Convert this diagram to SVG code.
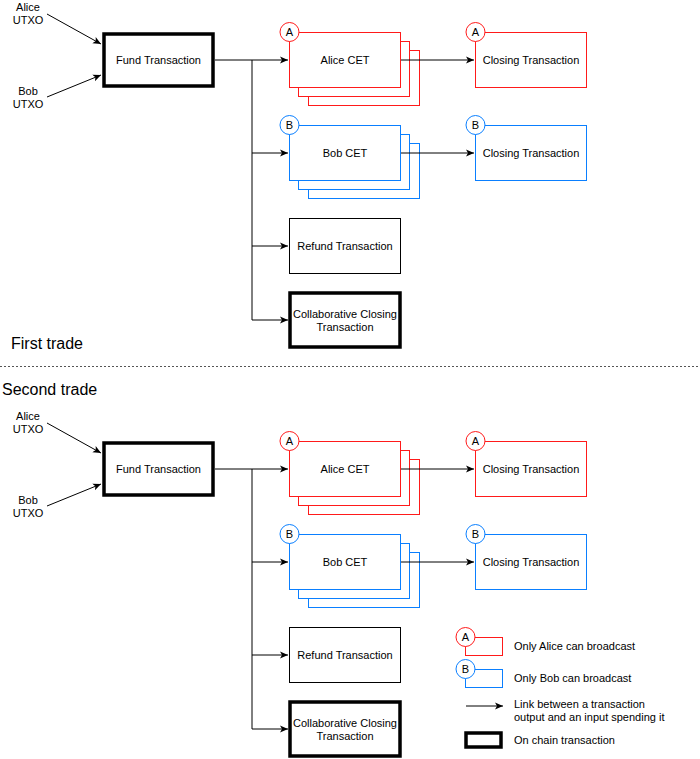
<svg xmlns="http://www.w3.org/2000/svg" width="700" height="759" viewBox="0 0 700 759">
<style>
text{font-family:"Liberation Sans",Arial,sans-serif;font-size:11px;fill:#000;text-anchor:middle;dominant-baseline:central}
.title{font-size:16px;text-anchor:start}
.leg{text-anchor:start}
.box{fill:#fff;stroke:#000;stroke-width:1}
.thick{fill:#fff;stroke:#000;stroke-width:3.5}
.red{fill:#fff;stroke:#FF1A1A;stroke-width:1}
.blue{fill:#fff;stroke:#0A7FFF;stroke-width:1}
.conn path{fill:none;stroke:#000;stroke-width:1;marker-end:url(#arr)}
.plain{fill:none;stroke:#000;stroke-width:1}
</style>
<defs>
<marker id="arr" markerUnits="userSpaceOnUse" markerWidth="9" markerHeight="8" refX="8" refY="4" orient="auto">
<path d="M0,0.5 L8,4 L0,7.5 L2,4 z" fill="#000"/>
</marker>
<g id="trade">
<g id="alice-utxo"><text x="28" y="7">Alice</text><text x="28" y="20">UTXO</text></g>
<g id="bob-utxo"><text x="28" y="91">Bob</text><text x="28" y="104">UTXO</text></g>
<g id="fund"><rect class="thick" x="104" y="34" width="109" height="52"/><text x="158.5" y="60">Fund Transaction</text></g>
<g id="alice-cet">
<rect class="red" x="308.5" y="50.5" width="111" height="55"/>
<rect class="red" x="298.5" y="41.5" width="111" height="55"/>
<rect class="red" x="289.5" y="32.5" width="111" height="55"/>
<circle class="red" cx="289.5" cy="32" r="9.5"/><text x="289.5" y="32">A</text>
<text x="345" y="60">Alice CET</text>
</g>
<g id="alice-closing">
<rect class="red" x="475.5" y="32.5" width="111" height="55"/>
<circle class="red" cx="475.5" cy="32" r="9.5"/><text x="475.5" y="32">A</text>
<text x="531" y="60">Closing Transaction</text>
</g>
<g id="bob-cet">
<rect class="blue" x="308.5" y="143.5" width="111" height="55"/>
<rect class="blue" x="298.5" y="134.5" width="111" height="55"/>
<rect class="blue" x="289.5" y="125.5" width="111" height="55"/>
<circle class="blue" cx="289.5" cy="125" r="9.5"/><text x="289.5" y="125">B</text>
<text x="345" y="153">Bob CET</text>
</g>
<g id="bob-closing">
<rect class="blue" x="475.5" y="125.5" width="111" height="55"/>
<circle class="blue" cx="475.5" cy="125" r="9.5"/><text x="475.5" y="125">B</text>
<text x="531" y="153">Closing Transaction</text>
</g>
<g id="refund"><rect class="box" x="289.5" y="218.5" width="111" height="55"/><text x="345" y="246">Refund Transaction</text></g>
<g id="collab"><rect class="thick" x="290" y="293" width="110" height="54"/><text x="345" y="313.5">Collaborative Closing</text><text x="345" y="327">Transaction</text></g>
<g class="conn">
<path d="M47,14 L101,44"/>
<path d="M47,97 L101,75"/>
<path d="M215,60 H288"/>
<path d="M252,60 V153 H288"/>
<path d="M252,153 V246 H288"/>
<path d="M252,246 V320 H288"/>
<path d="M401,60 H474"/>
<path d="M401,153 H474"/>
</g>
</g>
</defs>
<rect width="700" height="759" fill="#fff"/>
<g id="first-trade"><use href="#trade"/></g>
<text class="title" x="11" y="343">First trade</text>
<line x1="0" y1="366.5" x2="700" y2="366.5" stroke="#555" stroke-width="1" stroke-dasharray="2,2"/>
<text class="title" x="2" y="389">Second trade</text>
<g id="second-trade" transform="translate(0,409)"><use href="#trade"/></g>
<g id="legend">
<g id="legend-alice"><rect class="red" x="465.5" y="637.5" width="37" height="18"/><circle class="red" cx="465.5" cy="637" r="9.5"/><text x="465.5" y="637">A</text><text class="leg" x="514" y="646">Only Alice can broadcast</text></g>
<g id="legend-bob"><rect class="blue" x="465.5" y="669.5" width="37" height="18"/><circle class="blue" cx="465.5" cy="669" r="9.5"/><text x="465.5" y="669">B</text><text class="leg" x="514" y="678">Only Bob can broadcast</text></g>
<g id="legend-link" class="conn"><path d="M466,706 H503"/></g>
<text class="leg" x="514" y="704">Link between a transaction</text>
<text class="leg" x="514" y="717">output and an input spending it</text>
<g id="legend-onchain"><rect class="thick" x="466" y="733" width="35" height="14"/><text class="leg" x="514" y="740">On chain transaction</text></g>
</g>
</svg>
